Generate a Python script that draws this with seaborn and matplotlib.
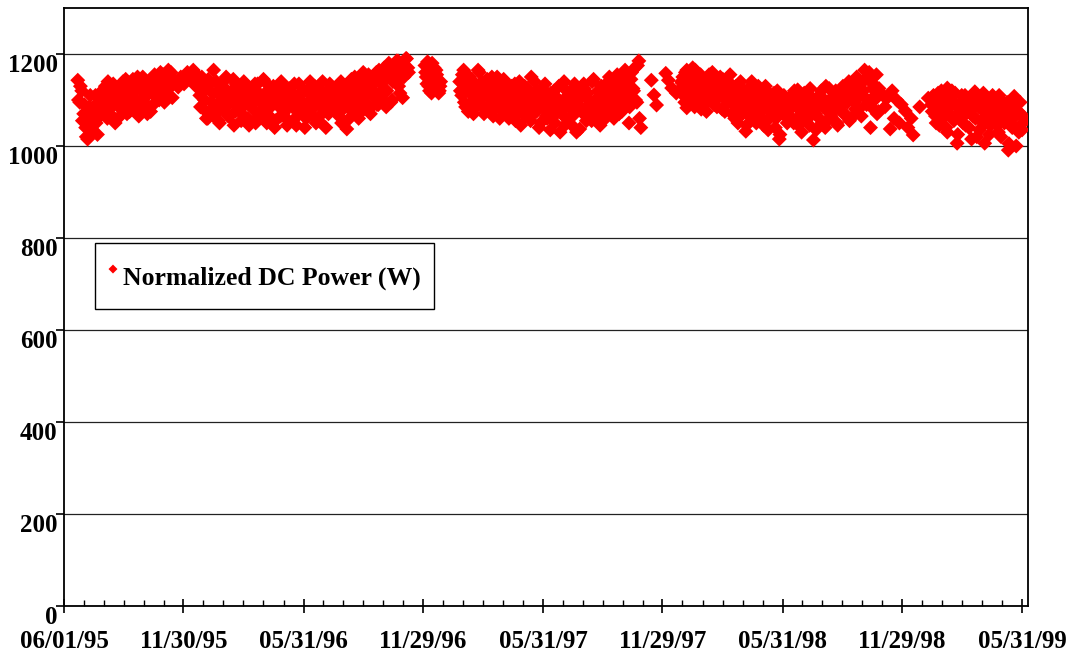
import matplotlib
matplotlib.use("Agg")
import matplotlib.pyplot as plt
import matplotlib.dates as mdates
import numpy as np
import pandas as pd
import seaborn as sns

START = pd.Timestamp("1995-06-01")
LABEL = "Normalized DC Power (W)"

# dense stretches: first day offset, day step, values (W)
seg_a_start, seg_a_step = 21, 3
seg_a = [1143, 1095, 1120, 1070, 1040, 1015, 1085, 1060, 1030, 1110, 1025, 1090,
         1100, 1075, 1130, 1060, 1115, 1095, 1135, 1050, 1105, 1120, 1080, 1140,
         1095, 1070, 1125, 1110, 1145, 1085, 1130, 1065, 1100, 1150, 1115, 1090,
         1140, 1075, 1125, 1155, 1105, 1135, 1160, 1120, 1095, 1150, 1165, 1130, 1105]
seg_a2_start = 22
seg_a2 = [1100, 1130, 1055, 1090, 1020, 1045, 1110, 1035, 1075, 1050, 1095, 1065,
          1120, 1085, 1100, 1140, 1070, 1125, 1090, 1110, 1060, 1130, 1100, 1085,
          1145, 1115, 1075, 1135, 1095, 1120, 1150, 1080, 1125, 1105, 1140, 1070,
          1115, 1130, 1090, 1145, 1120, 1100, 1135, 1155, 1110, 1140, 1125, 1160]

seg_c_start, seg_c_step = 207, 3
seg_c = [1110, 1150, 1080, 1125, 1060, 1135, 1095, 1165, 1070, 1115, 1050, 1100,
         1140, 1085, 1120, 1065, 1105, 1145, 1075, 1095, 1130, 1055, 1110, 1090,
         1125, 1045, 1100, 1080, 1135, 1060, 1115, 1095, 1070, 1140, 1050, 1105,
         1085, 1120, 1040, 1095, 1130, 1065, 1110, 1075, 1125, 1055, 1100, 1085,
         1135, 1045, 1090, 1115, 1070, 1120, 1060, 1095, 1140, 1080, 1105, 1050,
         1125, 1090, 1070, 1115, 1040, 1100, 1135, 1085, 1110]
seg_c2_start = 208
seg_c2 = [1085, 1130, 1100, 1060, 1145, 1075, 1115, 1090, 1140, 1055, 1125, 1080,
          1105, 1150, 1065, 1095, 1120, 1045, 1135, 1085, 1110, 1070, 1140, 1100,
          1060, 1125, 1090, 1115, 1050, 1135, 1075, 1105, 1145, 1080, 1120, 1065,
          1095, 1130, 1055, 1110, 1085, 1140, 1070, 1100, 1045, 1125, 1090, 1115,
          1060, 1105, 1135, 1075, 1095, 1040, 1120, 1085, 1110, 1065, 1130, 1095,
          1055, 1100, 1140, 1080, 1115, 1070, 1125, 1090]

seg_d_start, seg_d_step = 413, 3
seg_d = [1090, 1120, 1065, 1140, 1080, 1110, 1037, 1130, 1095, 1075, 1150, 1100,
         1060, 1125, 1140, 1085, 1115, 1155, 1070, 1135, 1105, 1160, 1090, 1145,
         1120, 1170, 1085, 1150, 1175, 1100, 1160, 1140, 1185, 1115, 1165, 1150,
         1190, 1170]
seg_d2_start = 414
seg_d2 = [1110, 1075, 1135, 1050, 1100, 1125, 1085, 1060, 1145, 1115, 1090, 1130,
          1070, 1105, 1160, 1095, 1140, 1080, 1125, 1150, 1110, 1090, 1165, 1135,
          1100, 1155, 1120, 1180, 1095, 1140, 1165, 1185, 1130, 1155, 1105, 1175,
          1190, 1160]

seg_e_start, seg_e_step = 550, 2
seg_e = [1175, 1150, 1183, 1130, 1160, 1115, 1145, 1170, 1125, 1155, 1135, 1120, 1140]
seg_e2_start = 551
seg_e2 = [1160, 1135, 1170, 1120, 1150, 1180, 1140, 1125, 1165, 1145, 1115, 1130]

seg_f_start, seg_f_step = 603, 3
seg_f = [1140, 1110, 1165, 1085, 1125, 1150, 1095, 1070, 1135, 1115, 1160, 1090,
         1120, 1080, 1145, 1105, 1130, 1065, 1110, 1150, 1095, 1125, 1075, 1140,
         1100, 1060, 1120, 1090, 1135, 1070, 1110, 1045, 1100, 1130, 1080, 1115,
         1055, 1095, 1140, 1075, 1105, 1050, 1125, 1085, 1065, 1110, 1035, 1095,
         1120, 1070, 1100, 1030, 1085, 1140, 1060, 1110, 1090, 1045, 1125, 1075,
         1100, 1037, 1080, 1135, 1065, 1115, 1090, 1055, 1145, 1085, 1105, 1070,
         1130, 1095, 1060, 1115, 1150, 1080, 1120, 1100, 1155, 1070, 1135, 1090,
         1165, 1110, 1050, 1145, 1125, 1170, 1095, 1185, 1040]
seg_f2_start = 604
seg_f2 = [1120, 1155, 1095, 1135, 1075, 1145, 1110, 1130, 1085, 1165, 1100, 1140,
          1070, 1115, 1125, 1090, 1150, 1080, 1135, 1100, 1060, 1120, 1145, 1085,
          1110, 1075, 1130, 1095, 1055, 1115, 1140, 1080, 1105, 1065, 1125, 1090,
          1150, 1070, 1100, 1120, 1040, 1085, 1110, 1135, 1060, 1095, 1115, 1080,
          1050, 1105, 1130, 1075, 1095, 1045, 1120, 1085, 1100, 1065, 1135, 1030,
          1090, 1110, 1075, 1125, 1055, 1100, 1080, 1140, 1065, 1095, 1120, 1045,
          1110, 1085, 1135, 1070, 1100, 1125, 1060, 1145, 1090, 1115, 1075, 1130,
          1105, 1150, 1085, 1160, 1120, 1100, 1175, 1060]

seg_h_start, seg_h_step = 940, 3
seg_h = [1125, 1150, 1095, 1165, 1130, 1110, 1170, 1085, 1140, 1120, 1155, 1100,
         1135, 1075, 1145, 1115, 1160, 1090, 1130, 1105, 1150, 1080, 1120, 1140,
         1095, 1155, 1070, 1110, 1130, 1050, 1100, 1125, 1085, 1032, 1115, 1065,
         1140, 1090, 1075, 1120, 1055, 1100, 1045, 1130, 1080, 1060, 1110, 1095,
         1040, 1120, 1015, 1085, 1070, 1105, 1050, 1090]
seg_h2_start = 941
seg_h2 = [1140, 1110, 1160, 1130, 1090, 1150, 1120, 1165, 1100, 1135, 1080, 1145,
          1115, 1095, 1155, 1125, 1105, 1140, 1085, 1130, 1110, 1145, 1075, 1120,
          1100, 1135, 1090, 1060, 1115, 1085, 1140, 1070, 1105, 1045, 1125, 1095,
          1080, 1110, 1050, 1130, 1065, 1100, 1085, 1120, 1035, 1090, 1075, 1115,
          1060, 1100, 1025, 1080, 1110, 1065, 1095]

seg_i_start, seg_i_step = 1106, 3
seg_i = [1080, 1110, 1050, 1095, 1122, 1065, 1030, 1100, 1075, 1115, 1045, 1090,
         1013, 1070, 1105, 1060, 1120, 1085, 1040, 1095, 1125, 1065, 1100, 1080,
         1050, 1115, 1090, 1130, 1070, 1105, 1140, 1060, 1120, 1095, 1150, 1080,
         1135, 1110, 1165, 1090, 1145, 1040, 1125, 1100, 1155, 1075, 1115]
seg_i2_start = 1107
seg_i2 = [1095, 1060, 1120, 1085, 1045, 1105, 1075, 1115, 1055, 1090, 1125, 1070,
          1100, 1035, 1085, 1110, 1050, 1095, 1130, 1075, 1060, 1105, 1090, 1120,
          1045, 1085, 1100, 1070, 1125, 1095, 1055, 1115, 1140, 1080, 1105, 1130,
          1065, 1120, 1145, 1100, 1160, 1085, 1135, 1110, 1070, 1125]

seg_k_start, seg_k_step = 1322, 3
seg_k = [1090, 1110, 1065, 1100, 1045, 1120, 1075, 1095, 1030, 1085, 1105, 1060,
         1115, 1006, 1070, 1095, 1050, 1110, 1080, 1040, 1100, 1065, 1118, 1020,
         1085, 1055, 1105, 1006, 1075, 1095, 1045, 1110, 1060, 1085, 1030, 1100,
         1070, 1050, 1090, 991, 1065, 1040, 1108, 1000, 1075, 1095, 1035, 1060]
seg_k2_start = 1323
seg_k2 = [1075, 1100, 1050, 1115, 1085, 1060, 1105, 1040, 1095, 1070, 1120, 1055,
          1090, 1025, 1080, 1110, 1065, 1045, 1100, 1075, 1015, 1090, 1060, 1105,
          1035, 1080, 1115, 1050, 1070, 1025, 1095, 1060, 1085, 1045, 1110, 1020,
          1075, 1055, 1095, 1005, 1080, 1060, 1040, 1090, 1030, 1070, 1050]

# sparse stretches: explicit day offsets
sparse_days = [170, 174, 178, 183, 188, 192, 197, 201, 205,
               895, 899, 903, 917, 921, 926, 933, 942, 949,
               1248, 1251, 1254, 1259, 1262, 1265, 1269, 1273, 1276, 1282, 1286, 1291, 1294,
               1304, 1317, 1346]
sparse_vals = [1140, 1128, 1150, 1135, 1160, 1145, 1165, 1130, 1150,
               1143, 1111, 1089, 1158, 1143, 1126, 1115, 1137, 1083,
               1110, 1085, 1104, 1037, 1120, 1060, 1100, 1050, 1090, 1076, 1040, 1060, 1024,
               1085, 1104, 1126]

TICK_DATES = ["1995-06-01", "1995-11-30", "1996-05-31", "1996-11-29", "1997-05-31",
              "1997-11-29", "1998-05-31", "1998-11-29", "1999-05-31"]


def dense(start, step, vals):
    return pd.DataFrame({"day": start + step * np.arange(len(vals)), "power": vals})


frames = [
    dense(seg_a_start, seg_a_step, seg_a), dense(seg_a2_start, seg_a_step, seg_a2),
    dense(seg_c_start, seg_c_step, seg_c), dense(seg_c2_start, seg_c_step, seg_c2),
    dense(seg_d_start, seg_d_step, seg_d), dense(seg_d2_start, seg_d_step, seg_d2),
    dense(seg_e_start, seg_e_step, seg_e), dense(seg_e2_start, seg_e_step, seg_e2),
    dense(seg_f_start, seg_f_step, seg_f), dense(seg_f2_start, seg_f_step, seg_f2),
    dense(seg_h_start, seg_h_step, seg_h), dense(seg_h2_start, seg_h_step, seg_h2),
    dense(seg_i_start, seg_i_step, seg_i), dense(seg_i2_start, seg_i_step, seg_i2),
    dense(seg_k_start, seg_k_step, seg_k), dense(seg_k2_start, seg_k_step, seg_k2),
    pd.DataFrame({"day": sparse_days, "power": sparse_vals}),
]
df = pd.concat(frames, ignore_index=True).sort_values("day")
df["date"] = START + pd.to_timedelta(df["day"], unit="D")

sns.set_style("white")
plt.rcParams["font.family"] = ["Liberation Serif", "DejaVu Serif"]
plt.rcParams["font.weight"] = "bold"
for key in ["text.color", "axes.labelcolor", "xtick.color", "ytick.color"]:
    plt.rcParams[key] = "black"

fig = plt.figure(figsize=(10.68, 6.54), dpi=100)
ax = fig.add_axes([64 / 1068, 48 / 654, 964 / 1068, 598 / 654])

sns.scatterplot(data=df, x="date", y="power", marker="D", s=58, color="#ff0000",
                edgecolor="none", linewidth=0, label=LABEL, ax=ax, zorder=3)

ax.set_ylim(0, 1300)
ax.set_yticks(range(0, 1201, 200))
ax.yaxis.grid(True, color="#222222", lw=0.9)
ax.xaxis.grid(False)
ax.set_axisbelow(True)

ticks = pd.to_datetime(TICK_DATES)
ax.set_xlim(mdates.date2num(START), mdates.date2num(START) + 1469)
ax.set_xticks(ticks)
major_num = mdates.date2num(ticks)
minor_num = np.concatenate([np.linspace(a, b, 7)[1:-1] for a, b in zip(major_num[:-1], major_num[1:])])
ax.set_xticks(minor_num, minor=True)
ax.xaxis.set_major_formatter(mdates.DateFormatter("%m/%d/%y"))

ax.tick_params(axis="y", left=True, direction="out", length=6, width=1.2, pad=-1.5,
               labelsize=18, colors="black")
ax.tick_params(axis="x", which="major", bottom=True, direction="inout", length=10,
               width=1.2, pad=12, labelsize=18, colors="black")
ax.tick_params(axis="x", which="minor", bottom=True, direction="in", length=4, width=1.0,
               colors="black")
plt.setp(ax.get_yticklabels(), va="top", fontweight="bold")
plt.setp(ax.get_xticklabels(), fontweight="bold")
ax.set_xlabel("")
ax.set_ylabel("")

for sp in ax.spines.values():
    sp.set_visible(True)
    sp.set_color("black")
    sp.set_linewidth(1.3)

leg = ax.legend(loc="upper left", bbox_to_anchor=(31 / 964, 363 / 598), frameon=True,
                fancybox=False, edgecolor="black", framealpha=1, borderpad=0.5,
                borderaxespad=0, handlelength=0.4, handletextpad=0.2, handleheight=2.05,
                markerscale=0.6,
                prop={"family": "Liberation Serif", "weight": "bold", "size": 18.5})
leg.get_frame().set_linewidth(1.0)
for t in leg.get_texts():
    t.set_color("black")

fig.savefig("out.png", dpi=100)
plt.close(fig)
